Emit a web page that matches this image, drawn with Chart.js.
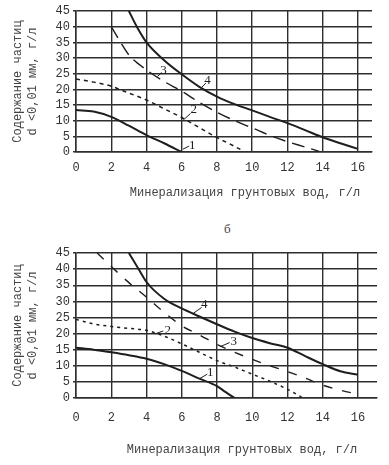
<!DOCTYPE html>
<html>
<head>
<meta charset="utf-8">
<script src="https://cdn.jsdelivr.net/npm/chart.js@4"></script>
<style>
  body { margin: 0; background: #fff; }
  #wrap { position: relative; width: 389px; height: 465px; overflow: hidden; }
  canvas { position: absolute; left: 0; }
  #topChart { top: 0; }
  #bottomChart { top: 240px; }
  #mark { position: absolute; left: 224px; top: 221px; font: 13px "Liberation Serif"; color: #444; }
</style>
</head>
<body>
<div id="wrap">
  <canvas id="topChart" width="389" height="205"></canvas>
  <div id="mark">б</div>
  <canvas id="bottomChart" width="389" height="225"></canvas>
</div>
<script>
// axis ticks and titles
const xTicks = [0, 2, 4, 6, 8, 10, 12, 14, 16];
const yTicks = [0, 5, 10, 15, 20, 25, 30, 35, 40, 45];
const xTitle = "Минерализация грунтовых вод, г/л";
const yTitle = ["Содержание частиц", "d <0,01 мм, г/л"];

// upper chart (a): curves 1..4, [mineralization, content]
const topCurve1 = [[0, 13.4], [1, 12.9], [2, 11.2], [3, 8.4], [4, 5.4], [5, 2.8], [6, 0]];
const topCurve2 = [[0, 23.3], [1, 22.3], [2, 21], [3, 18.8], [4, 16.6], [5, 13.8], [6, 11],
    [7, 7.8], [8, 4.6], [9, 1.8], [9.5, 0.3]];
const topCurve3 = [[2, 40], [2.5, 35.3], [3, 31], [4, 26.2], [5, 22.5], [6, 19.4], [7, 15.8], [8, 12.7],
    [9, 10], [10, 7.7], [11, 5.3], [12, 3.3], [13, 1.6], [13.8, 0.2]];
const topCurve4 = [[3, 45], [3.5, 39.5], [4, 35], [5, 29.3], [6, 24.8], [7, 20.8], [8, 17.7],
    [9, 15.3], [10, 13.3], [11, 11.2], [12, 9.2], [13, 7], [14, 4.7], [15, 2.8], [16, 1]];

// lower chart (б)
const botCurve1 = [[0, 15.6], [1, 15], [2, 14.2], [3, 13.3], [4, 12.2], [5, 10.5], [6, 8.4],
    [7, 6], [8, 3.7], [8.5, 1.8], [9, 0]];
const botCurve2 = [[0, 24.4], [1, 23], [2, 22.2], [3, 21.6], [4, 21], [5, 19.2], [6, 16.8],
    [7, 14.2], [8, 11.6], [9, 9.6], [10, 7.4], [11, 5.2], [12, 2.7], [12.8, 0.3]];
const botCurve3 = [[1.2, 45], [2, 40.8], [3, 35.8], [4, 31.3], [5, 26.6], [6, 22.4], [7, 19.6],
    [8, 16.6], [9, 14.2], [10, 12], [11, 10], [12, 8.2], [13, 6.2], [14, 4], [15, 2.4], [16, 1.2]];
const botCurve4 = [[3, 45], [3.5, 40.5], [4, 36], [5, 30.8], [6, 27.8], [7, 25.3], [8, 22.9],
    [9, 20.6], [10, 18.6], [11, 17], [12, 15.6], [13, 13], [14, 10.5], [15, 8.3], [16, 7.2]];

const ink = "#1e1e1e";
const gridInk = "#2e2e2e";
Chart.defaults.font.family = '"Liberation Mono", monospace';
Chart.defaults.font.size = 12;
Chart.defaults.color = "#333";

// curve number labels with little leader lines (in data units)
const curveNumbers = {
    id: "curveNumbers",
    afterDatasetsDraw(chart, args, o) {
        const ctx = chart.ctx;
        const sx = chart.scales.x;
        const sy = chart.scales.y;
        ctx.save();
        ctx.strokeStyle = ink;
        ctx.fillStyle = ink;
        ctx.lineWidth = 1;
        ctx.font = '13px "Liberation Serif"';
        ctx.textAlign = "center";
        ctx.textBaseline = "middle";
        o.marks.forEach(m => {
            ctx.beginPath();
            ctx.moveTo(sx.getPixelForValue(m.from[0]), sy.getPixelForValue(m.from[1]));
            ctx.lineTo(sx.getPixelForValue(m.to[0]), sy.getPixelForValue(m.to[1]));
            ctx.stroke();
            ctx.fillText(m.text, sx.getPixelForValue(m.at[0]), sy.getPixelForValue(m.at[1]));
        });
        // x axis title sits right of centre in the original
        ctx.fillStyle = "#444";
        ctx.font = '12px "Liberation Mono"';
        ctx.fillText(xTitle, o.titleX, o.titleY);
        ctx.restore();
    }
};

function makeChart(id, curves, dashes, opts) {
    const widths = [2, 1.5, 1.4, 2];
    return new Chart(document.getElementById(id), {
        type: "line",
        data: {
            datasets: curves.map((pts, i) => ({
                data: pts.map(p => ({ x: p[0], y: p[1] })),
                borderColor: ink,
                borderWidth: widths[i],
                borderDash: dashes[i],
                pointRadius: 0,
                cubicInterpolationMode: "monotone",
                fill: false
            }))
        },
        options: {
            responsive: false,
            animation: false,
            layout: { padding: { top: opts.top, right: opts.right, left: 0, bottom: 0 } },
            plugins: {
                legend: { display: false },
                tooltip: { enabled: false },
                curveNumbers: { marks: opts.marks, titleX: opts.titleX, titleY: opts.titleY }
            },
            scales: {
                x: {
                    type: "linear",
                    min: 0,
                    max: opts.xMax,
                    afterBuildTicks: s => { s.ticks = xTicks.map(v => ({ value: v })); },
                    afterFit: s => { s.height = opts.xHeight; },
                    grid: { color: gridInk, lineWidth: 1.4, drawTicks: false },
                    border: { color: gridInk, width: 1.5 },
                    ticks: { padding: opts.tickPad, maxRotation: 0, autoSkip: false }
                },
                y: {
                    min: 0,
                    max: 45,
                    afterBuildTicks: s => { s.ticks = yTicks.map(v => ({ value: v })); },
                    afterFit: s => { s.width = 76; },
                    grid: { color: gridInk, lineWidth: 1.4, tickLength: 3 },
                    border: { color: gridInk, width: 1.5 },
                    ticks: { padding: 3, autoSkip: false },
                    title: {
                        display: true,
                        text: yTitle,
                        color: "#444",
                        font: { size: 12, lineHeight: 1.25 },
                        padding: { top: 10.5, bottom: 0 }
                    }
                }
            }
        },
        plugins: [curveNumbers]
    });
}

makeChart("topChart",
    [topCurve1, topCurve2, topCurve3, topCurve4],
    [[], [4, 4], [13, 7], []],
    {
        top: 11, right: 17, xMax: 16.8, xHeight: 53, tickPad: 9,
        titleX: 245, titleY: 193,
        marks: [
            { text: "1", at: [6.6, 2.2], from: [6.07, 0.9], to: [6.42, 1.9] },
            { text: "2", at: [6.68, 13.4], from: [6.09, 10.2], to: [6.5, 12.3] },
            { text: "3", at: [4.97, 26.1], from: [4.62, 24.1], to: [4.84, 25.2] },
            { text: "4", at: [7.47, 22.9], from: [7.13, 20.6], to: [7.37, 22] }
        ]
    });

makeChart("bottomChart",
    [botCurve1, botCurve2, botCurve3, botCurve4],
    [[], [3, 4], [9, 10], []],
    {
        top: 13, right: 12, xMax: 17.08, xHeight: 67, tickPad: 13,
        titleX: 242, titleY: 210,
        marks: [
            { text: "1", at: [7.62, 7.9], from: [7.04, 6.1], to: [7.45, 7.4] },
            { text: "2", at: [5.2, 21], from: [4.48, 19.9], to: [4.95, 20.8] },
            { text: "3", at: [8.95, 17.6], from: [8.17, 15.9], to: [8.72, 17.2] },
            { text: "4", at: [7.28, 28.9], from: [6.66, 26.3], to: [7.13, 28.1] }
        ]
    });
</script>
</body>
</html>
